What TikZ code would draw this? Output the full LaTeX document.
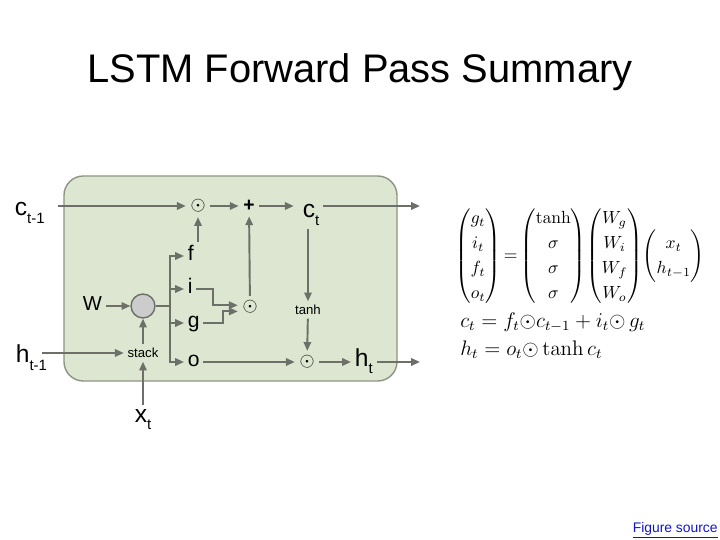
\documentclass[tikz,border=0pt]{standalone}
\usepackage{amsmath}
\usepackage[no-math]{fontspec}
\setmainfont{Liberation Sans}
\usetikzlibrary{arrows.meta}

\definecolor{cellfill}{RGB}{221,230,208}
\definecolor{celledge}{RGB}{140,148,132}
\definecolor{wiregray}{RGB}{108,112,104}
\definecolor{mixfill}{RGB}{204,204,204}
\definecolor{linkblue}{RGB}{20,20,200}

\newcommand{\lsub}[1]{\raisebox{-4pt}{\fontsize{8.5}{10}\selectfont #1}}

\tikzset{
  wire/.style={draw=wiregray, line width=1.1pt},
  flow/.style={wire, -{Triangle[length=5pt,width=4.2pt]}},
  biglbl/.style={font=\fontsize{14}{16}\selectfont, inner sep=2pt},
  gatelbl/.style={font=\fontsize{12}{14}\selectfont, inner sep=2pt},
  oplbl/.style={font=\fontsize{11}{13}\selectfont, inner sep=2.5pt},
  smalllbl/.style={font=\fontsize{7.5}{9}\selectfont, inner sep=2pt},
  eq/.style={font=\fontsize{12}{14.5}\selectfont, inner sep=0pt},
}

\begin{document}
\begin{tikzpicture}[x=0.02cm, y=-0.02cm]
  \useasboundingbox (0,0) rectangle (720,540);

  % -- Title --
  \node[font=\fontsize{22.7}{27}\selectfont, anchor=base] (title) at (360,83) {LSTM Forward Pass Summary};

  % -- Cell body --
  \draw[draw=celledge, fill=cellfill, line width=0.8pt, rounded corners=11pt] (64,176) rectangle (397,381);

  % -- Inputs and outputs --
  \node[biglbl, anchor=base west] (ctm) at (11,216) {c\lsub{t-1}};
  \node[biglbl, anchor=base west] (htm) at (12,363) {h\lsub{t-1}};
  \node[biglbl, anchor=base] (xt) at (143,422) {x\lsub{t}};
  \node[biglbl, anchor=base west] (ct) at (299,218) {c\lsub{t}};
  \node[biglbl, anchor=mid west] (ht) at (351,362) {h\lsub{t}};
  \coordinate (cout) at (420,206);
  \coordinate (hout) at (420,362);

  % -- Weights, stacking and gates --
  \node[gatelbl, anchor=mid west, font=\fontsize{11.5}{14}\selectfont] (wl) at (79,306) {W};
  \node[circle, draw=wiregray, fill=mixfill, line width=0.8pt, minimum size=13.6pt, inner sep=0pt] (mix) at (143,306) {};
  \node[smalllbl] (stack) at (143,353) {stack};
  \coordinate (bus) at (170,306);
  \node[gatelbl, anchor=mid west] (fl) at (184,256) {f};
  \node[gatelbl, anchor=mid west] (il) at (184,289) {i};
  \node[gatelbl, anchor=mid west] (gl) at (184,323) {g};
  \node[gatelbl, anchor=mid west] (ol) at (184,362) {o};

  % -- Operations --
  \node[oplbl] (mulf) at (198,206) {$\odot$};
  \node[oplbl] (plus) at (249,206) {\textbf{+}};
  \node[oplbl] (mulig) at (250,307) {$\odot$};
  \node[smalllbl] (tanhn) at (308,310) {tanh};
  \node[oplbl] (mulo) at (307,362) {$\odot$};

  % -- Connectors --
  \draw[flow, shorten <=5.4pt] (ctm.east |- mulf) -- (mulf);
  \draw[flow] (mulf) -- (plus);
  \draw[flow, shorten >=3pt] (plus) -- (ct.west |- plus);
  \draw[flow] (ct.east |- mulf) -- (cout);
  \draw[flow] (fl.north -| mulf) -- (mulf);
  \draw[flow] (wl.mid east) -- (mix);
  \draw[flow, shorten <=-4.8pt] (htm.east |- stack) -- (stack);
  \draw[flow] (xt.north) -- (stack);
  \draw[flow] (stack) -- (mix);
  \draw[wire] (mix) -- (bus);
  \foreach \gate in {fl, il, gl, ol}
    \draw[flow] (bus) |- (\gate.mid west);
  \draw[flow] (il.mid east) -- ++(17,0) |- ([yshift=1pt]mulig.west);
  \draw[flow] (gl.mid east) -- ++(20,0) |- ([yshift=-2.5pt]mulig.west);
  \draw[flow] (mulig) -- (plus);
  \draw[flow] (tanhn |- ct.south) -- (tanhn);
  \draw[flow] (tanhn) -- (mulo);
  \draw[flow] (ol.mid east) -- (mulo);
  \draw[flow] (mulo) -- (ht.mid west);
  \draw[flow] (ht.mid east) -- (hout);

  % -- Equations --
  \node[eq, anchor=west, font=\fontsize{10.3}{14.2}\selectfont] (eqm) at (455,256) {$\begin{pmatrix} g_t\\ i_t\\ f_t\\ o_t \end{pmatrix} {=} \begin{pmatrix} \tanh\\ \sigma\\ \sigma\\ \sigma \end{pmatrix}\! \begin{pmatrix} W_g\\ W_i\\ W_f\\ W_o \end{pmatrix}\! \begin{pmatrix} x_t\\ h_{t-1} \end{pmatrix}$};
  \node[eq, anchor=west] (eqc) at (460,322) {$c_t = f_t{\odot}c_{t-1} + i_t{\odot}\, g_t$};
  \node[eq, anchor=west] (eqh) at (460,350) {$h_t = o_t{\odot} \tanh c_t$};

  % -- Source link --
  \node[font=\fontsize{7.9}{9}\selectfont, text=linkblue, anchor=base east, inner sep=0pt] (src) at (718,532) {\underline{Figure source}};
\end{tikzpicture}
\end{document}
